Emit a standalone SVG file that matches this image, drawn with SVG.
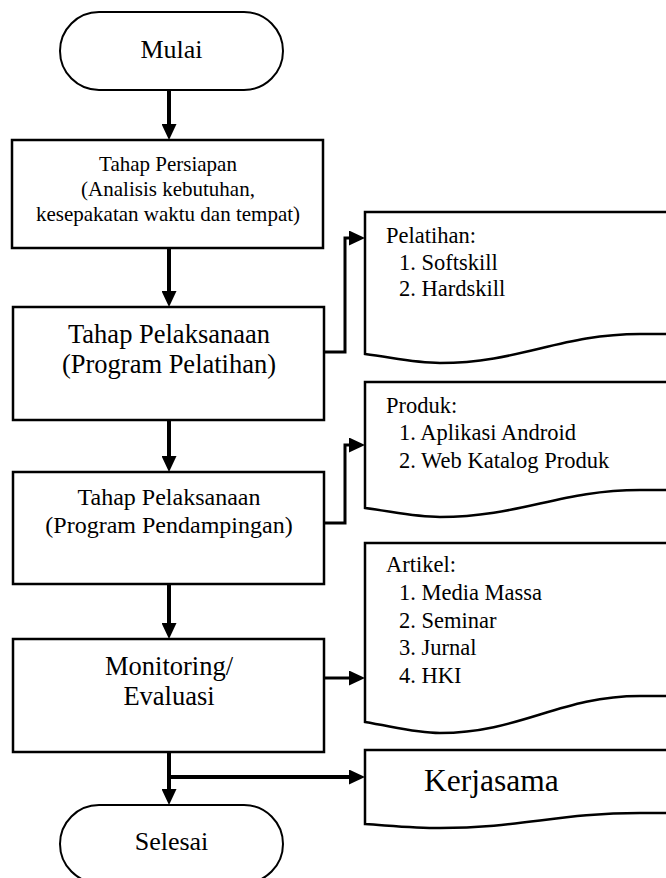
<svg xmlns="http://www.w3.org/2000/svg" width="666" height="878" viewBox="0 0 666 878">
<defs>
<style>
text{font-family:'Liberation Serif','DejaVu Serif',serif;fill:#000}
.c{text-anchor:middle}
.box{fill:#fff;stroke:#000;stroke-width:2.5}
.term{fill:#fff;stroke:#000;stroke-width:2}
.doc{fill:#fff;stroke:#000;stroke-width:2.5;stroke-linejoin:miter}
.main{fill:none;stroke:#000;stroke-width:4}
.side{fill:none;stroke:#000;stroke-width:3}
</style>
<marker id="ah" markerUnits="userSpaceOnUse" viewBox="0 0 16 15" markerWidth="16" markerHeight="15" refX="2" refY="7.5" orient="auto">
<path d="M0,0 L16,7.5 L0,15 Z" fill="#000"/>
</marker>
</defs>
<rect width="666" height="878" fill="#fff"/>

<g id="connectors">
<path class="main" d="M169,90 V126" marker-end="url(#ah)"/>
<path class="main" d="M169,248 V293" marker-end="url(#ah)"/>
<path class="main" d="M169,420 V458" marker-end="url(#ah)"/>
<path class="main" d="M169,584 V625" marker-end="url(#ah)"/>
<path class="main" d="M169,752 V791" marker-end="url(#ah)"/>
<path class="main" d="M169,777 H351" marker-end="url(#ah)"/>
<path class="side" d="M324,352 H345 V238 H351" marker-end="url(#ah)"/>
<path class="side" d="M324,523 H345 V445 H351" marker-end="url(#ah)"/>
<path class="side" d="M324,678 H351" marker-end="url(#ah)"/>
</g>

<g id="mulai">
<rect class="term" x="60" y="12" width="223" height="78" rx="39" ry="39"/>
<text class="c" x="171.5" y="58" font-size="26">Mulai</text>
</g>

<g id="persiapan">
<rect class="box" x="12" y="140" width="311" height="108"/>
<text class="c" x="168" y="171" font-size="21">Tahap Persiapan</text>
<text class="c" x="168" y="196" font-size="21">(Analisis kebutuhan,</text>
<text class="c" x="168" y="221" font-size="21">kesepakatan waktu dan tempat)</text>
</g>

<g id="pelatihan">
<rect class="box" x="13" y="307" width="311" height="113"/>
<text class="c" x="169" y="343" font-size="26.5">Tahap Pelaksanaan</text>
<text class="c" x="169" y="373" font-size="26.5">(Program Pelatihan)</text>
</g>

<g id="pendampingan">
<rect class="box" x="13" y="472" width="311" height="112"/>
<text class="c" x="169" y="505" font-size="24">Tahap Pelaksanaan</text>
<text class="c" x="169" y="533" font-size="24">(Program Pendampingan)</text>
</g>

<g id="monitoring">
<rect class="box" x="13" y="639" width="311" height="113"/>
<text class="c" x="169" y="675" font-size="26.5">Monitoring/</text>
<text class="c" x="169" y="705" font-size="26.5">Evaluasi</text>
</g>

<g id="selesai">
<rect class="term" x="60" y="805" width="223" height="78" rx="39" ry="39"/>
<text class="c" x="171.5" y="850" font-size="26">Selesai</text>
</g>

<g id="doc-pelatihan">
<path class="doc" d="M680,212 H365 V354 C395,358 415,363 440,363 C520,363 560,334 640,334 H680"/>
<text x="386" y="243" font-size="22.5">Pelatihan:</text>
<text x="399" y="270" font-size="22.5">1. Softskill</text>
<text x="399" y="296" font-size="22.5">2. Hardskill</text>
</g>

<g id="doc-produk">
<path class="doc" d="M680,382 H365 V508 C395,512 415,517 440,517 C520,517 560,490 640,490 H680"/>
<text x="386" y="413" font-size="22.5">Produk:</text>
<text x="399" y="440" font-size="22.5">1. Aplikasi Android</text>
<text x="399" y="468" font-size="22.5">2. Web Katalog Produk</text>
</g>

<g id="doc-artikel">
<path class="doc" d="M680,543 H365 V722 C395,727 415,733 440,733 C520,733 560,696 640,696 H680"/>
<text x="386" y="572" font-size="22.5">Artikel:</text>
<text x="399" y="600" font-size="22.5">1. Media Massa</text>
<text x="399" y="628" font-size="22.5">2. Seminar</text>
<text x="399" y="655" font-size="22.5">3. Jurnal</text>
<text x="399" y="683" font-size="22.5">4. HKI</text>
</g>

<g id="doc-kerjasama">
<path class="doc" d="M680,750 H365 V824 C395,826 415,828 440,828 C520,828 560,813 640,813 H680"/>
<text x="424" y="791" font-size="31.5">Kerjasama</text>
</g>
</svg>
